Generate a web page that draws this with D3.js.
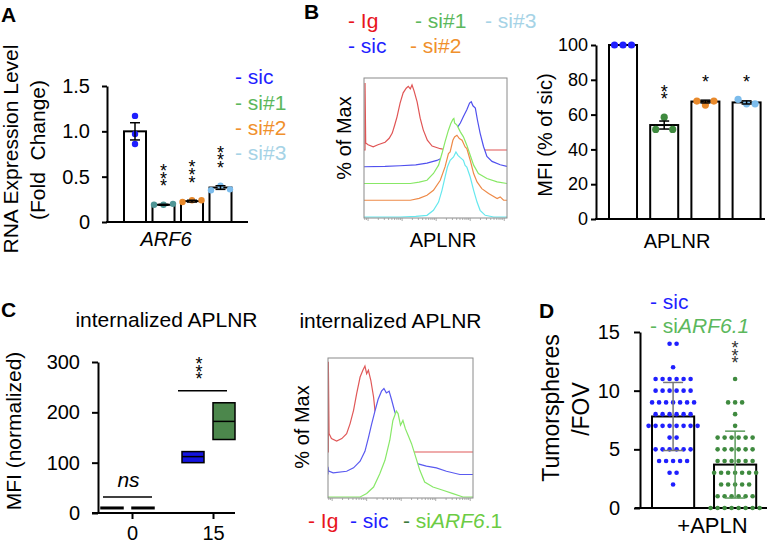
<!DOCTYPE html>
<html><head><meta charset="utf-8">
<script src="https://cdn.jsdelivr.net/npm/d3@7"></script>
<style>
html,body{margin:0;padding:0;background:#fff;}
svg{display:block;font-family:"Liberation Sans",Arial,Helvetica,sans-serif;}
</style></head><body>
<svg id="fig" width="767" height="543"></svg>
<script>
// ---------- Panel A data ----------
const aGroups = ["sic", "si#1", "si#2", "si#3"];
const aMeans = [1.0, 0.19, 0.23, 0.38];
const aSem = [0.095, 0.005, 0.01, 0.02];
const aPoints = [[1.17, 0.97, 0.86], [0.19, 0.19, 0.20], [0.22, 0.24, 0.24], [0.35, 0.40, 0.36]];
const aStars = [0, 3, 3, 3];
const aTicks = [0, 0.5, 1.0, 1.5];

// ---------- Panel B data ----------
const bGroups = ["sic", "si#1", "si#2", "si#3"];
const bMeans = [100, 54, 67.5, 67];
const bSem = [0, 2.3, 0.8, 0.9];
const bPoints = [[100, 100, 100], [51.5, 58.5, 51.5], [67.8, 65.5, 67.8], [68.8, 66.2, 66.2]];
const bStars = [0, 2, 1, 1];
const bTicks = [0, 20, 40, 60, 80, 100];
// flow histograms: [log10 intensity, % of max]
const bIg = [[-0.12,0],[-0.09,0],[-0.09,103],[-0.07,11],[0.0,8],[0.15,5],[0.29,8],[0.5,12],[0.62,18],[0.71,26],[0.78,38],[0.85,51],[0.94,72],[1.03,88],[1.12,95],[1.18,98],[1.24,94],[1.29,100],[1.35,91],[1.44,74],[1.53,49],[1.62,31],[1.74,15],[1.88,6],[2.12,2],[2.32,0],[4.08,0]];
const bSic = [[-0.12,0],[0.5,0.5],[0.94,1.5],[1.4,3],[1.73,5.7],[2.02,9.7],[2.17,13.4],[2.31,18.5],[2.41,28.8],[2.51,46.6],[2.61,59.5],[2.71,67.2],[2.8,77.4],[2.9,87.7],[2.98,98],[3.03,100],[3.08,93.8],[3.15,90.3],[3.21,72.3],[3.29,51.8],[3.39,31.2],[3.49,15.8],[3.64,8.2],[3.88,3.1],[4.08,0.5]];
const bSi1 = [[-0.12,0],[1.24,0],[1.5,2],[1.73,5],[1.92,15.4],[2.07,28.2],[2.17,46.1],[2.26,64],[2.36,82],[2.43,92.3],[2.49,98.5],[2.52,100],[2.54,93.3],[2.61,89.7],[2.71,79.4],[2.8,71.7],[2.9,59],[3.0,43.5],[3.1,28.2],[3.24,15.4],[3.49,7.7],[3.79,2.5],[4.08,0]];
const bSi2 = [[-0.12,0],[1.24,0],[1.5,3],[1.73,7.7],[1.92,15.4],[2.12,30.8],[2.26,51.3],[2.36,71.8],[2.41,74.3],[2.49,92.3],[2.54,97.4],[2.61,100],[2.68,94.9],[2.76,92.3],[2.85,82],[2.9,79.5],[3.0,61.5],[3.1,41],[3.2,28.2],[3.34,17.9],[3.54,10.3],[3.79,2.6],[3.88,5.1],[3.98,0],[4.08,0]];
const bSi3 = [[-0.12,0],[0.94,0],[1.4,1],[1.73,2.6],[1.92,10.3],[2.07,23],[2.17,41],[2.26,61.5],[2.33,76.9],[2.41,87.2],[2.51,92.3],[2.58,100],[2.64,94.9],[2.71,91.3],[2.8,87.2],[2.85,79.5],[2.9,76.9],[3.0,61.5],[3.1,41],[3.2,23],[3.29,10.3],[3.44,2.6],[3.69,0],[4.08,0]];

// ---------- Panel C data ----------
const cTimes = ["0", "15"];
const cSeries = ["sic", "siARF6.1"];
const cSicMin = [8.5, 100], cSicMax = [11.5, 122], cSicMean = [10, 112];
const cSiMin = [8.5, 146], cSiMax = [11.5, 219], cSiMean = [10, 182];
const cTicks = [0, 100, 200, 300];
const cIg = [[-0.12,0],[-0.11,0],[-0.11,105],[-0.09,21.4],[-0.02,15.6],[0.13,12.8],[0.28,15.6],[0.42,21.4],[0.52,33],[0.62,48.5],[0.71,67.9],[0.81,87.2],[0.89,95],[0.95,100],[1.0,91],[1.05,95],[1.12,83.4],[1.2,64],[1.25,44.7],[1.49,25],[1.97,10],[2.36,0],[4.08,0]];
const cSic = [[-0.12,0],[-0.12,9],[-0.1,4],[0.03,1.9],[0.42,3.8],[0.62,7.7],[0.81,15.5],[0.95,27],[1.05,42.6],[1.14,58],[1.24,73.6],[1.33,87.2],[1.43,96.9],[1.5,100],[1.57,94.9],[1.65,96.9],[1.72,87.2],[1.81,73.6],[1.91,62],[2.05,46.5],[2.2,31],[2.34,19.3],[2.49,12.3],[2.73,9.7],[3.02,7.7],[3.31,3.8],[3.7,0],[4.08,0]];
const cSi = [[-0.12,0],[0.81,0],[1.0,4],[1.2,11.6],[1.38,27],[1.53,42.7],[1.67,66],[1.76,89],[1.86,100],[1.91,97],[1.98,83.4],[2.05,89],[2.12,79.5],[2.2,71.7],[2.3,62],[2.39,50.4],[2.54,31],[2.68,17.4],[2.92,11.6],[3.21,7.8],[3.5,4],[3.79,0],[4.08,0]];

// ---------- Panel D data ----------
const dGroups = ["sic", "siARF6.1"];
const dMeans = [7.8, 3.7];
const dSd = [2.9, 2.85];
const dSic = [14,14,12,11,11,11,11,11,11,10,10,10,10,10,10,9,9,9,9,9,9,9,8,8,8,8,8,8,7,7,7,7,7,7,7,7,6,6,5,5,5,5,5,5,4,4,4,4,4,3,3,2];
const dSi = [11,9,9,9,8,7,6,6,6,6,6,6,5,5,5,5,5,5,4,4,4,4,4,4,3,3,3,3,3,3,3,2,2,2,2,2,1,1,1,1,1,1,0,0,0,0,0,0,0,0];
const dTicks = [0, 5, 10, 15];

// ---------- colours ----------
const BLUE = "#1f1fff", GREEN = "#5cb85c", ORANGE = "#f0902c", LBLUE = "#a6d3e6", RED = "#e8141c";

const FF = '"Liberation Sans", Arial, Helvetica, sans-serif';
const svg = d3.select("#fig");
svg.append("rect").attr("width", 767).attr("height", 543).attr("fill", "#fff");

function txt(g, x, y, s, o = {}) {
  const t = g.append("text").attr("x", x).attr("y", y).text(s)
    .attr("font-size", o.size || 20).attr("fill", o.fill || "#000")
    .attr("text-anchor", o.anchor || "start");
  if (o.weight) t.attr("font-weight", o.weight);
  if (o.italic) t.attr("font-style", "italic");
  return t;
}
function vtxt(g, x, y, s, size) {
  return g.append("text").attr("transform", `translate(${x},${y}) rotate(-90)`)
    .attr("text-anchor", "middle").attr("font-size", size).attr("fill", "#000").text(s);
}
function rich(g, x, y, parts, size, anchor) {
  const t = g.append("text").attr("x", x).attr("y", y).attr("font-size", size).attr("text-anchor", anchor || "start");
  parts.forEach(p => t.append("tspan").text(p[0]).attr("fill", p[1]).attr("font-style", p[2] ? "italic" : null));
  return t;
}
// stacked asterisks as ONE text element with positioned tspans
function stars(g, x, yLow, n, size, fill) {
  const t = g.append("text").attr("text-anchor", "middle").attr("font-size", size).attr("fill", fill || "#000");
  for (let i = 0; i < n; i++)
    t.append("tspan").attr("x", x).attr("y", yLow - i * size * 0.42 + size * 0.57).text("*");
}
function styleAxis(sel, size) {
  sel.attr("font-family", FF).attr("font-size", size);
  sel.selectAll("path,line").attr("stroke", "#000").attr("stroke-width", 2);
  sel.selectAll("text").attr("fill", "#000");
}
function hline(g, x1, x2, y, w, c) {
  g.append("line").attr("x1", x1).attr("x2", x2).attr("y1", y).attr("y2", y).attr("stroke", c || "#000").attr("stroke-width", w || 2);
}

// bar + dots panel helper
function barPanel(g, groups, means, errs, points, starN, colors, x, y, dotR, spreadPx, errCol) {
  g.selectAll("rect.bar").data(groups).join("rect").attr("class", "bar")
    .attr("x", d => x(d)).attr("y", (d, i) => y(means[i]))
    .attr("width", x.bandwidth()).attr("height", (d, i) => y(0) - y(means[i]))
    .attr("fill", "#fff").attr("stroke", "#000").attr("stroke-width", 2);
  groups.forEach((gr, i) => {
    const cx = x(gr) + x.bandwidth() / 2;
    const pts = points[i];
    const pxRange = Math.abs(y(d3.max(pts)) - y(d3.min(pts)));
    const spread = pxRange < 15 ? spreadPx : 0;
    g.selectAll(null).data(pts).join("circle")
      .attr("cx", (d, j) => cx + (j - (pts.length - 1) / 2) * spread)
      .attr("cy", d => y(d)).attr("r", dotR).attr("fill", colors[i]);
    if (errs[i] > 0) {
      const t = y(means[i] + errs[i]), b = y(means[i] - errs[i]);
      g.append("line").attr("x1", cx).attr("x2", cx).attr("y1", t).attr("y2", b).attr("stroke", errCol || "#000").attr("stroke-width", 1.5);
      hline(g, cx - 5, cx + 5, t, 1.5, errCol); hline(g, cx - 5, cx + 5, b, 1.5, errCol);
    }
    if (starN[i] > 0) {
      const top = Math.min(y(means[i] + errs[i]), y(d3.max(pts)));
      stars(g, cx, top - 22, starN[i], 18);
    }
  });
}

// flow histogram helper
function flowHist(g, box, curves, colors, step, height, id) {
  const x = d3.scaleLinear().domain([-0.12, 4.08]).range([box.x0, box.x1]);
  const xl = d3.scaleLog().domain([Math.pow(10, -0.12), Math.pow(10, 4.08)]).range([box.x0, box.x1]);
  g.append("clipPath").attr("id", id).append("rect")
    .attr("x", box.x0).attr("y", box.y0).attr("width", box.x1 - box.x0).attr("height", box.y1 - box.y0);
  const cg = g.append("g").attr("clip-path", `url(#${id})`);
  const n = curves.length;
  curves.forEach((c, i) => {
    const base = box.y1 - 1 - (n - 1 - i) * step;
    const y = d3.scaleLinear().domain([0, 100]).range([base, base - height]);
    const area = d3.area().x(d => x(d[0])).y0(box.y1).y1(d => y(d[1]));
    const line = d3.line().x(d => x(d[0])).y(d => y(d[1]));
    cg.append("path").attr("d", area(c)).attr("fill", "#fff");
    cg.append("path").attr("d", line(c)).attr("fill", "none").attr("stroke", colors[i]).attr("stroke-width", 1.2);
  });
  g.append("rect").attr("x", box.x0).attr("y", box.y0).attr("width", box.x1 - box.x0).attr("height", box.y1 - box.y0)
    .attr("fill", "none").attr("stroke", "#8a8a8a").attr("stroke-width", 1);
  const tks = xl.ticks();
  g.selectAll(null).data(tks).join("line")
    .attr("x1", d => xl(d)).attr("x2", d => xl(d))
    .attr("y1", box.y1).attr("y2", d => box.y1 + (Math.abs(Math.log10(d) - Math.round(Math.log10(d))) < 1e-6 ? 3 : 2))
    .attr("stroke", "#999").attr("stroke-width", 0.8);
}

// ================= Panel A =================
(function () {
  const g = svg.append("g");
  txt(g, 1, 22, "A", { size: 21, weight: "bold" });
  const y = d3.scaleLinear().domain([0, 1.5]).range([222, 86]);
  const x = d3.scaleBand().domain(aGroups).range([124, 231.5]).paddingInner(0.228);
  const ax = g.append("g").attr("transform", "translate(107,0)")
    .call(d3.axisLeft(y).tickValues(aTicks).tickFormat(d => d === 0 ? "0" : d3.format(".1f")(d)).tickSize(5).tickSizeOuter(0).tickPadding(12));
  styleAxis(ax, 20);
  hline(g, 106, 248, y(0), 2);
  barPanel(g, aGroups, aMeans, aSem, aPoints, aStars, [BLUE, "#4f9595", "#e8892b", "#7cbcec"], x, y, 3.2, 9.5);
  vtxt(g, 18, 149, "RNA Expression Level", 21);
  vtxt(g, 45, 150, "(Fold\u00A0 Change)", 21);
  txt(g, 166, 246, "ARF6", { size: 20, italic: true, anchor: "middle" });
  const leg = [["sic", BLUE], ["si#1", GREEN], ["si#2", ORANGE], ["si#3", LBLUE]];
  const ly = [84, 110, 135, 160];
  leg.forEach((l, i) => rich(g, 235, ly[i], [["- " + l[0], l[1]]], 21));
})();

// ================= Panel B (histogram) =================
(function () {
  const g = svg.append("g");
  txt(g, 304, 19, "B", { size: 21, weight: "bold" });
  rich(g, 348, 28, [["- Ig", RED]], 21);
  rich(g, 415, 28, [["- si#1", GREEN]], 21);
  rich(g, 485, 28, [["- si#3", LBLUE]], 21);
  rich(g, 348, 53, [["- sic", BLUE]], 21);
  rich(g, 410, 53, [["- si#2", ORANGE]], 21);
  flowHist(g, { x0: 364, x1: 507, y0: 78, y1: 218 }, [bIg, bSic, bSi1, bSi2, bSi3],
    ["#e05555", "#5050ee", "#88e866", "#ee8a48", "#66e8ee"], 16.75, 65, "clipB");
  vtxt(g, 351, 138, "% of Max", 20);
  txt(g, 443, 247, "APLNR", { size: 20, anchor: "middle" });
})();

// ================= Panel B (bars) =================
(function () {
  const g = svg.append("g");
  const y = d3.scaleLinear().domain([0, 100]).range([219, 45]);
  const x = d3.scaleBand().domain(bGroups).range([609, 760.6]).paddingInner(0.32);
  const ax = g.append("g").attr("transform", "translate(596,0)")
    .call(d3.axisLeft(y).tickValues(bTicks).tickSize(5).tickSizeOuter(0).tickPadding(3));
  styleAxis(ax, 18);
  hline(g, 595, 765, y(0), 2);
  barPanel(g, bGroups, bMeans, bSem, bPoints, bStars, [BLUE, "#3f8a3f", "#e8892b", "#7cbcec"], x, y, 3.6, 8.5);
  vtxt(g, 552, 135, "MFI (% of sic)", 20);
  txt(g, 677, 248, "APLNR", { size: 20, anchor: "middle" });
})();

// ================= Panel C (floating bars) =================
(function () {
  const g = svg.append("g");
  txt(g, 1, 317, "C", { size: 21, weight: "bold" });
  txt(g, 166.5, 327, "internalized APLNR", { size: 21, anchor: "middle" });
  const y = d3.scaleLinear().domain([0, 300]).range([513, 362]);
  const xt = d3.scalePoint().domain(cTimes).range([132, 213]);
  const dx = d3.scalePoint().domain(cSeries).range([-20, 11]);
  const ax = g.append("g").attr("transform", "translate(98,0)")
    .call(d3.axisLeft(y).tickValues(cTicks).tickSize(6).tickSizeOuter(0).tickPadding(12));
  styleAxis(ax, 20);
  const bx = g.append("g").attr("transform", `translate(0,${y(0)})`)
    .call(d3.axisBottom(xt).tickSize(6).tickSizeOuter(0).tickPadding(7));
  styleAxis(bx, 20);
  bx.select(".domain").remove();
  hline(g, 92, 235, y(0), 2);
  const series = [[cSicMin, cSicMax, cSicMean, "#1414e0"], [cSiMin, cSiMax, cSiMean, "#4c874c"]];
  const w = 22;
  series.forEach((s, si) => {
    cTimes.forEach((t, ti) => {
      const cx = xt(t) + dx(cSeries[si]);
      g.append("rect").attr("x", cx - w / 2).attr("y", y(s[1][ti])).attr("width", w)
        .attr("height", y(s[0][ti]) - y(s[1][ti])).attr("fill", s[3]).attr("stroke", "#000").attr("stroke-width", 1.5);
      hline(g, cx - w / 2, cx + w / 2, y(s[2][ti]), 1.5);
    });
  });
  // significance
  hline(g, 103, 152, y(32), 1.5);
  txt(g, 128.5, 487, "ns", { size: 21, italic: true, anchor: "middle" });
  hline(g, 178, 227, y(243), 1.5);
  stars(g, 199, 375, 3, 18);
  vtxt(g, 21, 431, "MFI (normalized)", 21);
})();

// ================= Panel C (histogram) =================
(function () {
  const g = svg.append("g");
  txt(g, 390.5, 328, "internalized APLNR", { size: 21, anchor: "middle" });
  flowHist(g, { x0: 328, x1: 473, y0: 358, y1: 498 }, [cIg, cSic, cSi],
    ["#e05858", "#5a5af0", "#88e868"], 22.5, 86, "clipC");
  vtxt(g, 309, 427, "% of Max", 20);
  rich(g, 308, 528, [["- Ig", RED]], 21);
  rich(g, 350, 528, [["- sic", BLUE]], 21);
  rich(g, 403, 528, [["- ", "#3a7a3a"], ["si", "#6ccc44"], ["ARF6", "#6ccc44", true], [".1", "#6ccc44"]], 21);
})();

// ================= Panel D =================
(function () {
  const g = svg.append("g");
  txt(g, 539, 318, "D", { size: 21, weight: "bold" });
  rich(g, 650, 309, [["- sic", BLUE]], 21);
  rich(g, 650, 333, [["- si", GREEN], ["ARF6.1", GREEN, true]], 21);
  const y = d3.scaleLinear().domain([0, 15]).range([508, 332]);
  const x = d3.scaleBand().domain(dGroups).range([652, 756.2]).paddingInner(0.32);
  const ax = g.append("g").attr("transform", "translate(640,0)")
    .call(d3.axisLeft(y).tickValues(dTicks).tickSize(6).tickSizeOuter(0).tickPadding(14));
  styleAxis(ax, 20);
  hline(g, 635, 767, y(0), 2);
  g.selectAll("rect.bar").data(dGroups).join("rect").attr("class", "bar")
    .attr("x", d => x(d)).attr("y", (d, i) => y(dMeans[i]))
    .attr("width", x.bandwidth()).attr("height", (d, i) => y(0) - y(dMeans[i]))
    .attr("fill", "#fff").attr("stroke", "#000").attr("stroke-width", 2);
  const vals = [dSic, dSi], cols = [BLUE, "#3f8a3f"], ecols = ["#777", "#5a9a5a"];
  dGroups.forEach((gr, i) => {
    const cx = x(gr) + x.bandwidth() / 2;
    const rows = d3.group(vals[i], v => v);
    rows.forEach((arr, v) => {
      g.selectAll(null).data(arr).join("circle")
        .attr("cx", (d, j) => cx + (j - (arr.length - 1) / 2) * 7)
        .attr("cy", y(v)).attr("r", 2.3).attr("fill", cols[i]);
    });
    const t = y(dMeans[i] + dSd[i]), b = y(dMeans[i] - dSd[i]);
    g.append("line").attr("x1", cx).attr("x2", cx).attr("y1", t).attr("y2", b).attr("stroke", ecols[i]).attr("stroke-width", 1.5);
    hline(g, cx - 10, cx + 10, t, 1.5, ecols[i]); hline(g, cx - 10, cx + 10, b, 1.5, ecols[i]);
  });
  stars(g, x("siARF6.1") + x.bandwidth() / 2, y(d3.max(dSi)) - 20, 3, 18, "#333");
  vtxt(g, 559, 408, "Tumorspheres", 23);
  vtxt(g, 589, 409, "/FOV", 23);
  txt(g, 712.5, 533, "+APLN", { size: 22, anchor: "middle" });
})();
</script></body></html>
